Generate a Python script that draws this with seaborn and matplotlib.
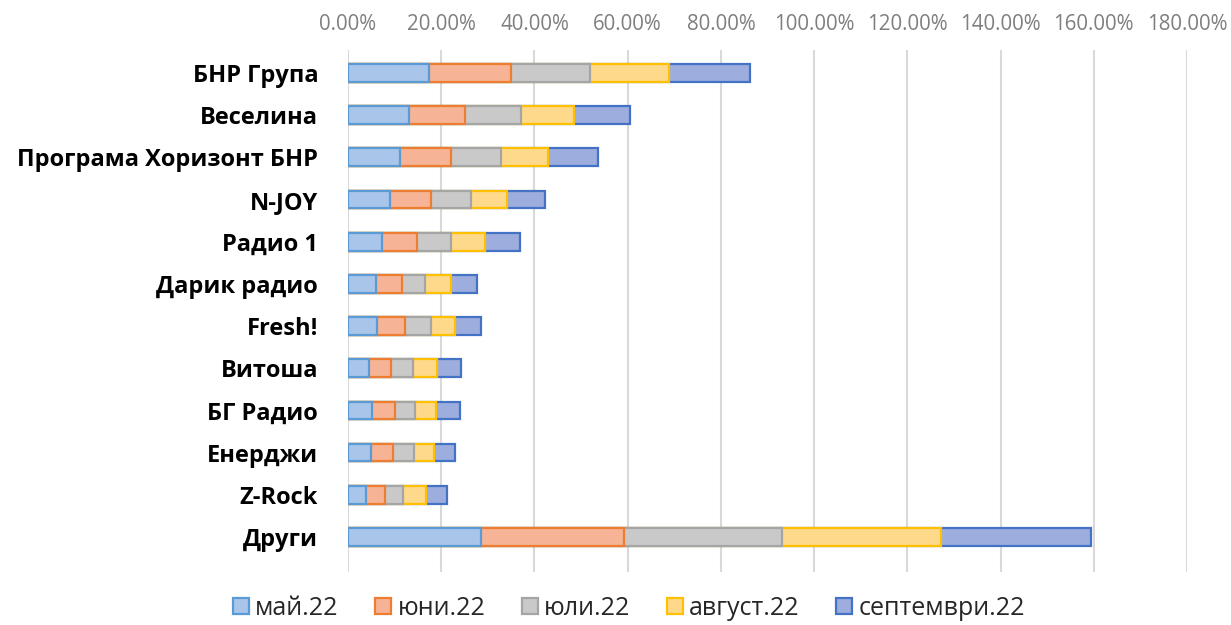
import matplotlib
matplotlib.use('Agg')
import matplotlib.pyplot as plt
from matplotlib.patches import Patch
from matplotlib.ticker import FuncFormatter
import pandas as pd
import seaborn as sns

# Radio stations (top to bottom) and monthly shares in %
stations = ['БНР Група', 'Веселина', 'Програма Хоризонт БНР', 'N-JOY', 'Радио 1',
            'Дарик радио', 'Fresh!', 'Витоша', 'БГ Радио', 'Енерджи', 'Z-Rock', 'Други']
months = ['май.22', 'юни.22', 'юли.22', 'август.22', 'септември.22']

may = [17.3, 13.0, 11.2, 9.0, 7.2, 6.1, 6.2, 4.6, 5.2, 5.0, 3.9, 28.5]
june = [17.7, 12.2, 10.9, 8.8, 7.5, 5.4, 6.0, 4.7, 4.8, 4.7, 4.0, 30.8]
july = [16.9, 11.9, 10.7, 8.5, 7.4, 5.1, 5.5, 4.6, 4.4, 4.5, 4.0, 33.8]
august = [16.9, 11.4, 10.0, 7.9, 7.2, 5.4, 5.2, 5.1, 4.5, 4.3, 4.9, 34.2]
september = [17.4, 12.0, 10.9, 8.1, 7.7, 5.6, 5.6, 5.2, 5.1, 4.5, 4.5, 32.1]

fills = ['#a9c5ea', '#f6b396', '#c9c9c9', '#ffd98b', '#9dadde']
edges = ['#5b9bd5', '#ed7d31', '#a5a5a5', '#ffc000', '#4472c4']

df = pd.DataFrame({'station': stations, months[0]: may, months[1]: june,
                   months[2]: july, months[3]: august, months[4]: september})
cum = df[months].cumsum(axis=1)
cum['station'] = df['station']

sns.set_style('white')
plt.rcParams['font.family'] = ['Open Sans', 'DejaVu Sans']

fig = plt.figure(figsize=(12.31, 6.25), dpi=100)
ax = fig.add_axes([0.2827, 0.0848, 0.6816, 0.8352])

# draw cumulative bars from the last month back, so earlier months sit on top
for m, fc, ec in reversed(list(zip(months, fills, edges))):
    sns.barplot(data=cum, x=m, y='station', order=stations, orient='h',
                color=fc, edgecolor=ec, linewidth=1.6, width=0.42,
                saturation=1, ax=ax, zorder=3)

ax.set_xlim(0, 180)
ax.set_ylim(11.83, -0.545)
ax.set_xticks(range(0, 181, 20))
ax.xaxis.set_major_formatter(FuncFormatter(lambda v, p: f'{v:.2f}%'))
ax.xaxis.tick_top()
ax.tick_params(axis='x', length=0, pad=11, labelsize=14.8, labelcolor='#7f7f7f')
ax.tick_params(axis='y', length=0, pad=21.5, labelsize=17, labelcolor='black')
for t in ax.get_yticklabels():
    t.set_fontweight('bold')
ax.set_xlabel('')
ax.set_ylabel('')
ax.grid(axis='x', color='#d9d9d9', linewidth=1.5, zorder=0)
ax.set_axisbelow(True)
for s in ax.spines.values():
    s.set_visible(False)

handles = [Patch(facecolor=fc, edgecolor=ec, linewidth=1.6, label=m)
           for m, fc, ec in zip(months, fills, edges)]
fig.legend(handles=handles, loc='center', bbox_to_anchor=(0.511, 0.027), ncol=5,
           frameon=False, fontsize=18, handlelength=0.65, handleheight=0.65,
           handletextpad=0.25, columnspacing=1.45, labelcolor='#262626')

fig.savefig('out.png', dpi=100)
